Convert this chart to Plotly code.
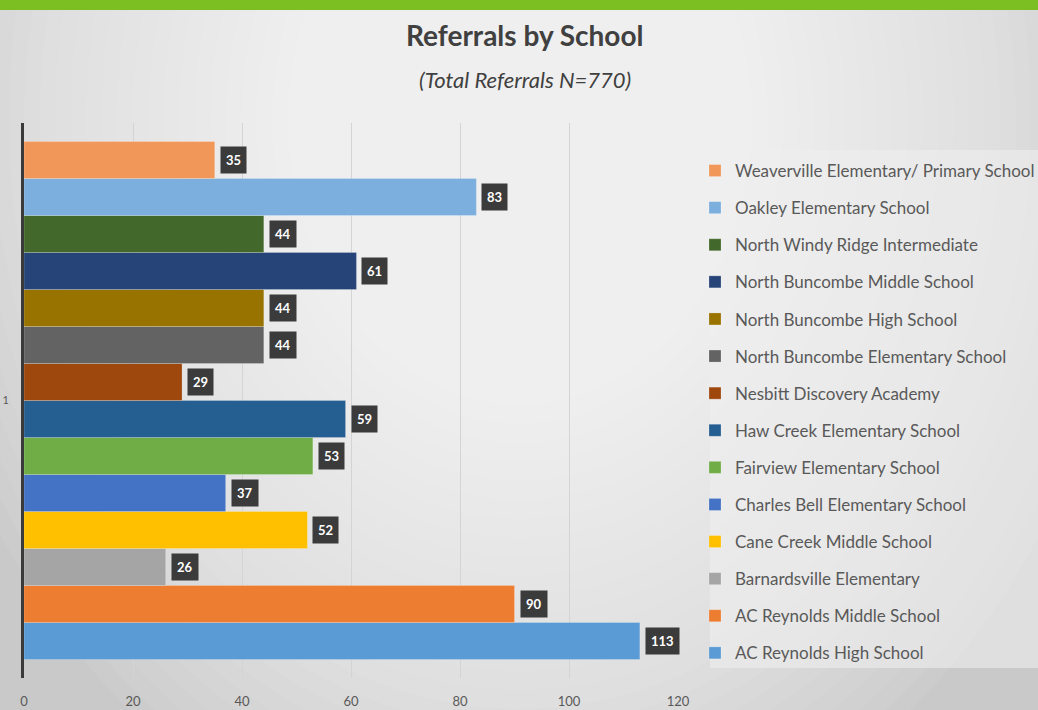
import plotly.graph_objects as go

# Series in Excel order (bottom bar first)
schools = [
    "AC Reynolds High School",
    "AC Reynolds Middle School",
    "Barnardsville Elementary",
    "Cane Creek Middle School",
    "Charles Bell Elementary School",
    "Fairview Elementary School",
    "Haw Creek Elementary School",
    "Nesbitt Discovery Academy",
    "North Buncombe Elementary School",
    "North Buncombe High School",
    "North Buncombe Middle School",
    "North Windy Ridge Intermediate",
    "Oakley Elementary School",
    "Weaverville Elementary/ Primary School",
]
referrals = [113, 90, 26, 52, 37, 53, 59, 29, 44, 44, 61, 44, 83, 35]
colors = ["#5B9BD5", "#ED7D31", "#A5A5A5", "#FFC000", "#4472C4", "#70AD47",
          "#255E91", "#9E480E", "#636363", "#997300", "#264478", "#43682B",
          "#7CAFDD", "#F1975A"]
x_ticks = [0, 20, 40, 60, 80, 100, 120]
category_label = ["1"]

W, H = 1038, 710
L, R, T, B = 24, 678, 123, 678  # plot area in px


def px(x):
    return (x - L) / (R - L)


def py(y):
    return (B - y) / (B - T)


n = len(schools)
fig = go.Figure()
for i, (name, val, col) in enumerate(zip(schools, referrals, colors)):
    fig.add_trace(go.Bar(
        x=[val], y=[i], orientation="h", width=1, name=name,
        legendgroup=name, legendrank=n - i,
        marker=dict(color=col, line=dict(width=0.6, color="rgba(255,255,255,0.35)")),
        hoverinfo="x+name",
    ))
    fig.add_annotation(
        x=val, y=i, xref="x", yref="y", text="<b>%d</b>" % val, showarrow=False,
        xanchor="left", xshift=5, bgcolor="#3b3b3b", borderpad=5,
        font=dict(family="Lato", size=13, color="white"),
    )

# background radial gradient (stepped, fine)
shapes = []
cx, cy, rx, ry = 520, 120, 620, 760
N = 40
for k in range(N, 0, -1):
    f = k / N
    shapes.append(dict(
        type="circle", xref="paper", yref="paper", layer="below",
        x0=px(cx - rx * f), x1=px(cx + rx * f), y0=py(cy + ry * f), y1=py(cy - ry * f),
        fillcolor="white", opacity=0.06, line=dict(width=0),
    ))
# legend panel
shapes.append(dict(type="rect", xref="paper", yref="paper", layer="below",
                   x0=px(710), x1=px(1045), y0=py(668), y1=py(150),
                   fillcolor="rgba(238,238,238,0.6)", line=dict(width=0)))
# green top band
shapes.append(dict(type="rect", xref="paper", yref="paper", layer="above",
                   x0=px(-5), x1=px(1045), y0=py(10), y1=py(-5),
                   fillcolor="#7CBF22", line=dict(width=0)))

fig.add_annotation(x=px(525), y=py(35), xref="paper", yref="paper",
                   xanchor="center", yanchor="middle",
                   text="<b>Referrals by School</b>", showarrow=False,
                   font=dict(family="Lato", size=28, color="#404040"))
fig.add_annotation(x=px(525), y=py(80), xref="paper", yref="paper",
                   xanchor="center", yanchor="middle",
                   text="<i>(Total Referrals N=770)</i>", showarrow=False,
                   font=dict(family="Lato", size=22, color="#404040"))

fig.update_layout(
    width=W, height=H,
    margin=dict(l=L, r=W - R, t=T, b=H - B, pad=0, autoexpand=False),
    paper_bgcolor="#c9c9c9", plot_bgcolor="rgba(0,0,0,0)",
    barmode="overlay",
    shapes=shapes,
    showlegend=True,
    legend=dict(
        x=px(695), y=py(153), xanchor="left", yanchor="top",
        traceorder="grouped", tracegroupgap=12,
        bgcolor="rgba(0,0,0,0)",
        font=dict(family="Lato", size=17, color="#595959"),
        itemwidth=30,
    ),
    xaxis=dict(range=[0, 120], tickvals=x_ticks, showgrid=True, gridcolor="#d4d4d4",
               gridwidth=1, zeroline=False, showline=False,
               ticks="outside", ticklen=11, tickcolor="rgba(0,0,0,0)",
               tickfont=dict(family="Lato", size=13, color="#595959")),
    yaxis=dict(range=[-1, 14], tickvals=[6.5], ticktext=category_label, showgrid=False,
               zeroline=False, showline=True, linecolor="#3a3a3a", linewidth=3,
               ticks="outside", ticklen=10, tickcolor="rgba(0,0,0,0)",
               tickfont=dict(family="Lato", size=11, color="#595959")),
    font=dict(family="Lato"),
)

fig.write_html("out.html", config={"displayModeBar": False},
               post_script="document.body.style.margin='0px';document.body.style.overflow='hidden';")
